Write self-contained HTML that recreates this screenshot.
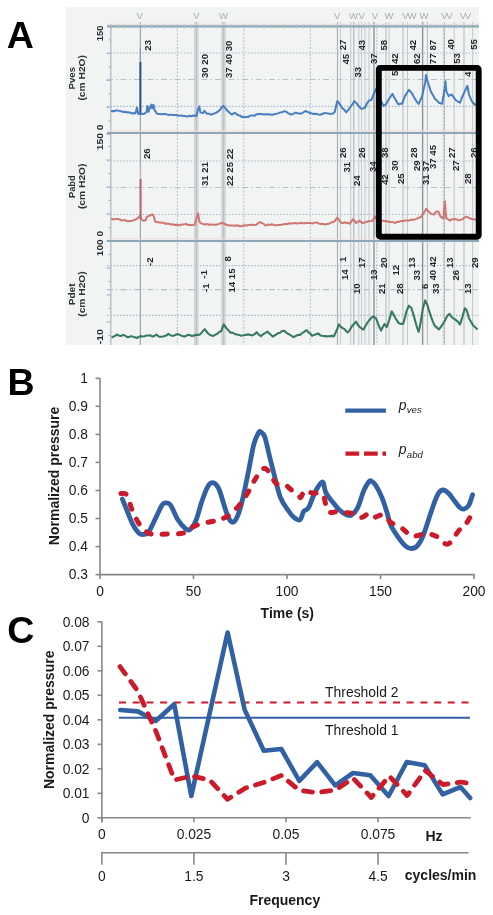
<!DOCTYPE html>
<html><head><meta charset="utf-8"><title>Figure</title>
<style>
html,body{margin:0;padding:0;background:#fff;width:493px;height:915px;overflow:hidden;}
body{position:relative;font-family:"Liberation Sans", sans-serif;}
svg text{font-family:"Liberation Sans", sans-serif;}
svg{will-change:transform;}
</style></head><body>
<svg width="493" height="915" viewBox="0 0 493 915" style="position:absolute;left:0;top:0">
<text x="6.8" y="47.7" font-family="Liberation Sans" font-weight="bold" font-size="37.5" fill="#000">A</text>
<text x="7.5" y="395.4" font-family="Liberation Sans" font-weight="bold" font-size="37.5" fill="#000">B</text>
<text x="7.3" y="643.0" font-family="Liberation Sans" font-weight="bold" font-size="37.5" fill="#000">C</text>
<defs><filter id="soft" x="0" y="0" width="1" height="1"><feGaussianBlur stdDeviation="0.35"/></filter></defs>
<g id="panelA">
<rect x="66" y="7.5" width="413" height="337.5" fill="#eef0f1"/>
<rect x="66" y="7.5" width="413" height="337.5" fill="#f2f4f4"/>
<g filter="url(#soft)">
<line x1="107.0" y1="53.0" x2="479.0" y2="53.0" stroke="#a9bccb" stroke-width="1.20" stroke-dasharray="1.6 1.6"/>
<line x1="107.0" y1="106.3" x2="479.0" y2="106.3" stroke="#a9bccb" stroke-width="1.20" stroke-dasharray="1.6 1.6"/>
<line x1="107.0" y1="161.0" x2="479.0" y2="161.0" stroke="#a9bccb" stroke-width="1.20" stroke-dasharray="1.6 1.6"/>
<line x1="107.0" y1="214.5" x2="479.0" y2="214.5" stroke="#a9bccb" stroke-width="1.20" stroke-dasharray="1.6 1.6"/>
<line x1="107.0" y1="265.6" x2="479.0" y2="265.6" stroke="#a9bccb" stroke-width="1.20" stroke-dasharray="1.6 1.6"/>
<line x1="107.0" y1="315.3" x2="479.0" y2="315.3" stroke="#a9bccb" stroke-width="1.20" stroke-dasharray="1.6 1.6"/>
<line x1="107.0" y1="79.5" x2="479.0" y2="79.5" stroke="#b9c0c8" stroke-width="1.20" stroke-dasharray="6 3 1.5 3"/>
<line x1="107.0" y1="187.5" x2="479.0" y2="187.5" stroke="#b9c0c8" stroke-width="1.20" stroke-dasharray="6 3 1.5 3"/>
<line x1="107.0" y1="289.7" x2="479.0" y2="289.7" stroke="#b9c0c8" stroke-width="1.20" stroke-dasharray="6 3 1.5 3"/>
<line x1="177.3" y1="26.0" x2="177.3" y2="345.0" stroke="#b4bcc6" stroke-width="1.00" stroke-dasharray="2 1.5"/>
<line x1="243.8" y1="26.0" x2="243.8" y2="345.0" stroke="#b4bcc6" stroke-width="1.00" stroke-dasharray="2 1.5"/>
<line x1="310.3" y1="26.0" x2="310.3" y2="345.0" stroke="#b4bcc6" stroke-width="1.00" stroke-dasharray="2 1.5"/>
<line x1="376.8" y1="26.0" x2="376.8" y2="345.0" stroke="#b4bcc6" stroke-width="1.00" stroke-dasharray="2 1.5"/>
<line x1="443.3" y1="26.0" x2="443.3" y2="345.0" stroke="#b4bcc6" stroke-width="1.00" stroke-dasharray="2 1.5"/>
<line x1="196.3" y1="22.0" x2="196.3" y2="345.0" stroke="#d2d5d8" stroke-width="4.60" />
<line x1="196.3" y1="22.0" x2="196.3" y2="345.0" stroke="#b8bcc2" stroke-width="0.90" />
<line x1="223.5" y1="22.0" x2="223.5" y2="345.0" stroke="#d2d5d8" stroke-width="4.60" />
<line x1="223.5" y1="22.0" x2="223.5" y2="345.0" stroke="#b8bcc2" stroke-width="0.90" />
<line x1="337.5" y1="22.0" x2="337.5" y2="345.0" stroke="#a8b0b8" stroke-width="1.20" />
<line x1="340.6" y1="22.0" x2="340.6" y2="345.0" stroke="#c0c6cc" stroke-width="1.00" />
<line x1="350.7" y1="22.0" x2="350.7" y2="345.0" stroke="#c0c6cc" stroke-width="1.00" />
<line x1="353.8" y1="22.0" x2="353.8" y2="345.0" stroke="#b0b8c0" stroke-width="1.20" />
<line x1="358.8" y1="22.0" x2="358.8" y2="345.0" stroke="#c4c9ce" stroke-width="1.00" />
<line x1="361.5" y1="22.0" x2="361.5" y2="345.0" stroke="#c4c9ce" stroke-width="1.00" />
<line x1="365.0" y1="22.0" x2="365.0" y2="345.0" stroke="#c0c6cc" stroke-width="1.00" />
<line x1="369.0" y1="22.0" x2="369.0" y2="345.0" stroke="#c0c6cc" stroke-width="1.00" />
<line x1="374.0" y1="22.0" x2="374.0" y2="345.0" stroke="#8c949c" stroke-width="1.40" />
<line x1="386.0" y1="22.0" x2="386.0" y2="345.0" stroke="#b8bec4" stroke-width="1.10" />
<line x1="389.0" y1="22.0" x2="389.0" y2="345.0" stroke="#c4c9ce" stroke-width="1.00" />
<line x1="403.0" y1="22.0" x2="403.0" y2="345.0" stroke="#b8bec4" stroke-width="1.10" />
<line x1="407.5" y1="22.0" x2="407.5" y2="345.0" stroke="#c4c9ce" stroke-width="1.00" />
<line x1="422.6" y1="22.0" x2="422.6" y2="345.0" stroke="#8c949c" stroke-width="1.40" />
<line x1="427.4" y1="22.0" x2="427.4" y2="345.0" stroke="#b8bec4" stroke-width="1.10" />
<line x1="444.5" y1="22.0" x2="444.5" y2="345.0" stroke="#b8bec4" stroke-width="1.10" />
<line x1="454.2" y1="22.0" x2="454.2" y2="345.0" stroke="#c0c6cc" stroke-width="1.00" />
<line x1="464.0" y1="22.0" x2="464.0" y2="345.0" stroke="#b8bec4" stroke-width="1.10" />
<line x1="472.7" y1="22.0" x2="472.7" y2="345.0" stroke="#c0c6cc" stroke-width="1.00" />
<line x1="140.3" y1="22.0" x2="140.3" y2="345.0" stroke="#8a949e" stroke-width="1.00" />
<line x1="110.8" y1="25.0" x2="110.8" y2="345.0" stroke="#b4c0ca" stroke-width="1.40" />
<line x1="108.5" y1="39.9" x2="110.8" y2="39.9" stroke="#a0b0bc" stroke-width="1.00" />
<line x1="106.5" y1="53.4" x2="110.8" y2="53.4" stroke="#a0b0bc" stroke-width="1.00" />
<line x1="108.5" y1="66.9" x2="110.8" y2="66.9" stroke="#a0b0bc" stroke-width="1.00" />
<line x1="106.5" y1="80.4" x2="110.8" y2="80.4" stroke="#a0b0bc" stroke-width="1.00" />
<line x1="108.5" y1="93.9" x2="110.8" y2="93.9" stroke="#a0b0bc" stroke-width="1.00" />
<line x1="106.5" y1="107.4" x2="110.8" y2="107.4" stroke="#a0b0bc" stroke-width="1.00" />
<line x1="108.5" y1="120.9" x2="110.8" y2="120.9" stroke="#a0b0bc" stroke-width="1.00" />
<line x1="106.5" y1="134.4" x2="110.8" y2="134.4" stroke="#a0b0bc" stroke-width="1.00" />
<line x1="108.5" y1="146.5" x2="110.8" y2="146.5" stroke="#a0b0bc" stroke-width="1.00" />
<line x1="106.5" y1="160.0" x2="110.8" y2="160.0" stroke="#a0b0bc" stroke-width="1.00" />
<line x1="108.5" y1="173.5" x2="110.8" y2="173.5" stroke="#a0b0bc" stroke-width="1.00" />
<line x1="106.5" y1="187.0" x2="110.8" y2="187.0" stroke="#a0b0bc" stroke-width="1.00" />
<line x1="108.5" y1="200.5" x2="110.8" y2="200.5" stroke="#a0b0bc" stroke-width="1.00" />
<line x1="106.5" y1="214.0" x2="110.8" y2="214.0" stroke="#a0b0bc" stroke-width="1.00" />
<line x1="108.5" y1="227.5" x2="110.8" y2="227.5" stroke="#a0b0bc" stroke-width="1.00" />
<line x1="106.5" y1="241.0" x2="110.8" y2="241.0" stroke="#a0b0bc" stroke-width="1.00" />
<line x1="108.5" y1="254.5" x2="110.8" y2="254.5" stroke="#a0b0bc" stroke-width="1.00" />
<line x1="106.5" y1="268.0" x2="110.8" y2="268.0" stroke="#a0b0bc" stroke-width="1.00" />
<line x1="108.5" y1="281.5" x2="110.8" y2="281.5" stroke="#a0b0bc" stroke-width="1.00" />
<line x1="106.5" y1="295.0" x2="110.8" y2="295.0" stroke="#a0b0bc" stroke-width="1.00" />
<line x1="108.5" y1="308.5" x2="110.8" y2="308.5" stroke="#a0b0bc" stroke-width="1.00" />
<line x1="106.5" y1="322.0" x2="110.8" y2="322.0" stroke="#a0b0bc" stroke-width="1.00" />
<line x1="108.5" y1="335.5" x2="110.8" y2="335.5" stroke="#a0b0bc" stroke-width="1.00" />
<line x1="107.0" y1="24.2" x2="479.0" y2="24.2" stroke="#eedadd" stroke-width="1.00" />
<line x1="107.0" y1="26.4" x2="479.0" y2="26.4" stroke="#8ea7b6" stroke-width="2.20" />
<line x1="107.0" y1="130.8" x2="479.0" y2="130.8" stroke="#eedadd" stroke-width="1.00" />
<line x1="107.0" y1="133.0" x2="479.0" y2="133.0" stroke="#8ea7b6" stroke-width="2.20" />
<line x1="107.0" y1="238.8" x2="479.0" y2="238.8" stroke="#eedadd" stroke-width="1.00" />
<line x1="107.0" y1="241.0" x2="479.0" y2="241.0" stroke="#8ea7b6" stroke-width="2.20" />
<line x1="111.0" y1="24.2" x2="111.0" y2="28.8" stroke="#b4c0c8" stroke-width="0.80" />
<line x1="117.7" y1="24.2" x2="117.7" y2="28.8" stroke="#b4c0c8" stroke-width="0.80" />
<line x1="124.3" y1="24.2" x2="124.3" y2="28.8" stroke="#b4c0c8" stroke-width="0.80" />
<line x1="131.0" y1="24.2" x2="131.0" y2="28.8" stroke="#b4c0c8" stroke-width="0.80" />
<line x1="137.6" y1="24.2" x2="137.6" y2="28.8" stroke="#b4c0c8" stroke-width="0.80" />
<line x1="144.3" y1="24.2" x2="144.3" y2="28.8" stroke="#b4c0c8" stroke-width="0.80" />
<line x1="150.9" y1="24.2" x2="150.9" y2="28.8" stroke="#b4c0c8" stroke-width="0.80" />
<line x1="157.6" y1="24.2" x2="157.6" y2="28.8" stroke="#b4c0c8" stroke-width="0.80" />
<line x1="164.2" y1="24.2" x2="164.2" y2="28.8" stroke="#b4c0c8" stroke-width="0.80" />
<line x1="170.9" y1="24.2" x2="170.9" y2="28.8" stroke="#b4c0c8" stroke-width="0.80" />
<line x1="177.5" y1="24.2" x2="177.5" y2="28.8" stroke="#b4c0c8" stroke-width="0.80" />
<line x1="184.2" y1="24.2" x2="184.2" y2="28.8" stroke="#b4c0c8" stroke-width="0.80" />
<line x1="190.8" y1="24.2" x2="190.8" y2="28.8" stroke="#b4c0c8" stroke-width="0.80" />
<line x1="197.5" y1="24.2" x2="197.5" y2="28.8" stroke="#b4c0c8" stroke-width="0.80" />
<line x1="204.1" y1="24.2" x2="204.1" y2="28.8" stroke="#b4c0c8" stroke-width="0.80" />
<line x1="210.8" y1="24.2" x2="210.8" y2="28.8" stroke="#b4c0c8" stroke-width="0.80" />
<line x1="217.4" y1="24.2" x2="217.4" y2="28.8" stroke="#b4c0c8" stroke-width="0.80" />
<line x1="224.1" y1="24.2" x2="224.1" y2="28.8" stroke="#b4c0c8" stroke-width="0.80" />
<line x1="230.7" y1="24.2" x2="230.7" y2="28.8" stroke="#b4c0c8" stroke-width="0.80" />
<line x1="237.4" y1="24.2" x2="237.4" y2="28.8" stroke="#b4c0c8" stroke-width="0.80" />
<line x1="244.0" y1="24.2" x2="244.0" y2="28.8" stroke="#b4c0c8" stroke-width="0.80" />
<line x1="250.7" y1="24.2" x2="250.7" y2="28.8" stroke="#b4c0c8" stroke-width="0.80" />
<line x1="257.3" y1="24.2" x2="257.3" y2="28.8" stroke="#b4c0c8" stroke-width="0.80" />
<line x1="264.0" y1="24.2" x2="264.0" y2="28.8" stroke="#b4c0c8" stroke-width="0.80" />
<line x1="270.6" y1="24.2" x2="270.6" y2="28.8" stroke="#b4c0c8" stroke-width="0.80" />
<line x1="277.3" y1="24.2" x2="277.3" y2="28.8" stroke="#b4c0c8" stroke-width="0.80" />
<line x1="283.9" y1="24.2" x2="283.9" y2="28.8" stroke="#b4c0c8" stroke-width="0.80" />
<line x1="290.6" y1="24.2" x2="290.6" y2="28.8" stroke="#b4c0c8" stroke-width="0.80" />
<line x1="297.2" y1="24.2" x2="297.2" y2="28.8" stroke="#b4c0c8" stroke-width="0.80" />
<line x1="303.8" y1="24.2" x2="303.8" y2="28.8" stroke="#b4c0c8" stroke-width="0.80" />
<line x1="310.5" y1="24.2" x2="310.5" y2="28.8" stroke="#b4c0c8" stroke-width="0.80" />
<line x1="317.1" y1="24.2" x2="317.1" y2="28.8" stroke="#b4c0c8" stroke-width="0.80" />
<line x1="323.8" y1="24.2" x2="323.8" y2="28.8" stroke="#b4c0c8" stroke-width="0.80" />
<line x1="330.4" y1="24.2" x2="330.4" y2="28.8" stroke="#b4c0c8" stroke-width="0.80" />
<line x1="337.1" y1="24.2" x2="337.1" y2="28.8" stroke="#b4c0c8" stroke-width="0.80" />
<line x1="343.7" y1="24.2" x2="343.7" y2="28.8" stroke="#b4c0c8" stroke-width="0.80" />
<line x1="350.4" y1="24.2" x2="350.4" y2="28.8" stroke="#b4c0c8" stroke-width="0.80" />
<line x1="357.0" y1="24.2" x2="357.0" y2="28.8" stroke="#b4c0c8" stroke-width="0.80" />
<line x1="363.7" y1="24.2" x2="363.7" y2="28.8" stroke="#b4c0c8" stroke-width="0.80" />
<line x1="370.3" y1="24.2" x2="370.3" y2="28.8" stroke="#b4c0c8" stroke-width="0.80" />
<line x1="377.0" y1="24.2" x2="377.0" y2="28.8" stroke="#b4c0c8" stroke-width="0.80" />
<line x1="383.6" y1="24.2" x2="383.6" y2="28.8" stroke="#b4c0c8" stroke-width="0.80" />
<line x1="390.3" y1="24.2" x2="390.3" y2="28.8" stroke="#b4c0c8" stroke-width="0.80" />
<line x1="396.9" y1="24.2" x2="396.9" y2="28.8" stroke="#b4c0c8" stroke-width="0.80" />
<line x1="403.6" y1="24.2" x2="403.6" y2="28.8" stroke="#b4c0c8" stroke-width="0.80" />
<line x1="410.2" y1="24.2" x2="410.2" y2="28.8" stroke="#b4c0c8" stroke-width="0.80" />
<line x1="416.9" y1="24.2" x2="416.9" y2="28.8" stroke="#b4c0c8" stroke-width="0.80" />
<line x1="423.5" y1="24.2" x2="423.5" y2="28.8" stroke="#b4c0c8" stroke-width="0.80" />
<line x1="430.2" y1="24.2" x2="430.2" y2="28.8" stroke="#b4c0c8" stroke-width="0.80" />
<line x1="436.8" y1="24.2" x2="436.8" y2="28.8" stroke="#b4c0c8" stroke-width="0.80" />
<line x1="443.5" y1="24.2" x2="443.5" y2="28.8" stroke="#b4c0c8" stroke-width="0.80" />
<line x1="450.1" y1="24.2" x2="450.1" y2="28.8" stroke="#b4c0c8" stroke-width="0.80" />
<line x1="456.8" y1="24.2" x2="456.8" y2="28.8" stroke="#b4c0c8" stroke-width="0.80" />
<line x1="463.4" y1="24.2" x2="463.4" y2="28.8" stroke="#b4c0c8" stroke-width="0.80" />
<line x1="470.1" y1="24.2" x2="470.1" y2="28.8" stroke="#b4c0c8" stroke-width="0.80" />
<line x1="476.7" y1="24.2" x2="476.7" y2="28.8" stroke="#b4c0c8" stroke-width="0.80" />
<text x="139.6" y="19" text-anchor="middle" font-size="9.5" fill="#a6acb3">V</text>
<text x="196.3" y="19" text-anchor="middle" font-size="9.5" fill="#a6acb3">V</text>
<text x="223.5" y="19" text-anchor="middle" font-size="9.5" fill="#a6acb3">W</text>
<text x="337.2" y="19" text-anchor="middle" font-size="9.5" fill="#a6acb3">V</text>
<text x="353.5" y="19" text-anchor="middle" font-size="9.5" fill="#a6acb3">W</text>
<text x="361.6" y="19" text-anchor="middle" font-size="9.5" fill="#a6acb3">V</text>
<text x="374.8" y="19" text-anchor="middle" font-size="9.5" fill="#a6acb3">V</text>
<text x="389.0" y="19" text-anchor="middle" font-size="9.5" fill="#a6acb3">W</text>
<text x="405.5" y="19" text-anchor="middle" font-size="9.5" fill="#a6acb3">V</text>
<text x="412.0" y="19" text-anchor="middle" font-size="9.5" fill="#a6acb3">W</text>
<text x="424.0" y="19" text-anchor="middle" font-size="9.5" fill="#a6acb3">W</text>
<text x="444.5" y="19" text-anchor="middle" font-size="9.5" fill="#a6acb3">V</text>
<text x="449.5" y="19" text-anchor="middle" font-size="9.5" fill="#a6acb3">V</text>
<text x="463.0" y="19" text-anchor="middle" font-size="9.5" fill="#a6acb3">V</text>
<text x="468.0" y="19" text-anchor="middle" font-size="9.5" fill="#a6acb3">V</text>
<path d="M111.0 111.3 L112.5 111.0 L114.0 111.4 L115.6 110.4 L117.2 110.4 L119.2 110.9 L121.2 111.2 L122.8 111.9 L124.5 111.7 L126.1 112.3 L127.8 112.2 L129.4 112.5 L130.9 113.0 L132.4 113.5 L134.0 113.0 L135.5 113.2 L137.0 107.6 L138.2 113.9 L140.0 113.9 L141.2 113.7 L144.0 114.0 L146.5 112.0 L147.5 105.9 L148.5 111.8 L150.0 107.6 L151.3 104.6 L152.1 108.3 L153.4 104.8 L154.5 109.7 L157.0 113.8 L158.6 114.0 L160.2 114.0 L161.9 114.3 L163.5 114.1 L165.1 114.1 L166.8 114.4 L168.4 114.9 L170.0 114.7 L171.6 114.7 L173.2 115.1 L174.8 115.1 L176.4 115.0 L178.0 115.6 L179.8 115.7 L181.5 115.4 L183.2 116.0 L185.0 116.1 L186.6 116.4 L188.2 116.2 L189.9 115.7 L191.5 116.3 L193.1 115.4 L194.8 115.7 L196.4 116.1 L198.0 109.3 L199.3 106.4 L200.4 112.4 L202.9 113.1 L204.5 110.7 L206.1 113.0 L207.7 113.8 L209.4 113.8 L211.0 114.7 L212.6 114.1 L214.2 113.5 L215.8 112.9 L217.9 111.6 L219.9 110.0 L221.5 107.6 L223.1 105.8 L225.6 108.4 L227.2 110.6 L228.8 112.1 L230.4 113.6 L232.1 114.5 L234.5 112.7 L237.0 114.4 L238.6 115.5 L240.2 115.6 L241.8 116.9 L243.4 117.0 L245.0 117.3 L246.6 116.7 L248.3 116.9 L249.9 115.7 L251.5 115.6 L253.2 115.5 L254.8 115.7 L256.4 114.3 L258.1 114.2 L259.7 113.7 L261.4 114.2 L263.1 114.3 L264.7 114.5 L266.4 114.1 L268.1 114.4 L269.7 114.3 L271.3 114.8 L273.0 114.8 L274.6 113.9 L276.2 113.9 L277.8 113.4 L279.5 112.8 L281.1 112.4 L282.8 112.0 L284.4 111.1 L286.0 111.6 L287.6 112.8 L289.2 113.6 L290.8 114.6 L292.4 114.3 L294.1 113.4 L295.7 112.6 L297.3 113.2 L299.0 113.6 L300.6 113.5 L302.2 113.2 L303.9 112.0 L305.5 111.0 L307.1 111.8 L308.7 112.4 L310.3 113.3 L311.9 113.3 L313.6 114.1 L315.2 113.8 L316.8 114.0 L318.4 114.4 L320.0 114.7 L321.7 114.3 L323.3 113.5 L325.0 112.9 L326.6 113.3 L328.2 113.4 L329.8 113.9 L331.4 113.7 L333.0 113.4 L334.7 111.9 L337.3 101.1 L338.9 102.9 L340.5 105.4 L342.2 107.9 L344.2 109.7 L346.2 112.4 L348.2 110.1 L350.3 107.2 L352.4 104.3 L354.4 101.1 L356.8 103.6 L358.8 106.2 L360.8 108.6 L362.9 108.7 L364.9 107.7 L366.9 103.5 L369.0 100.4 L371.4 99.9 L373.8 93.8 L376.3 88.5 L378.0 92.5 L380.5 100.0 L382.1 103.3 L383.6 106.0 L386.0 104.2 L388.0 100.5 L390.0 97.4 L392.5 93.9 L394.1 97.3 L395.7 99.9 L398.2 104.3 L400.2 103.8 L402.2 103.7 L404.9 96.1 L406.9 93.1 L408.9 89.8 L410.5 91.7 L412.2 93.7 L413.8 96.9 L415.4 99.6 L417.0 102.0 L418.7 103.9 L420.3 100.3 L421.9 97.0 L423.5 90.0 L425.2 82.7 L426.0 74.9 L427.6 81.7 L429.2 86.0 L430.8 91.4 L432.9 95.1 L434.9 98.8 L436.9 100.6 L439.0 102.8 L440.6 103.3 L442.2 103.7 L444.6 89.1 L445.5 81.3 L446.3 91.4 L448.7 96.1 L450.3 95.0 L451.9 94.4 L453.9 97.7 L456.0 100.3 L458.0 101.7 L460.0 102.7 L461.6 98.5 L463.3 94.5 L465.7 89.4 L467.4 85.8 L469.0 94.5 L471.4 100.5 L473.0 102.7 L474.7 104.5 L477.5 104.9" fill="none" stroke="#3f78c0" stroke-width="2.00" stroke-linejoin="round" opacity="0.95"/>
<path d="M111.0 218.6 L112.8 219.3 L114.5 219.3 L116.2 219.0 L118.0 219.1 L119.6 219.4 L121.2 220.3 L122.9 220.4 L124.5 219.9 L126.1 220.8 L127.8 221.2 L129.4 221.1 L131.0 221.0 L132.9 220.6 L134.8 219.7 L136.7 219.0 L138.3 217.5 L139.9 215.5 L141.5 219.5 L143.1 220.7 L145.6 220.2 L147.2 216.6 L149.6 215.7 L152.1 214.3 L153.7 216.0 L155.3 221.7 L156.9 221.9 L158.6 222.5 L160.2 222.5 L161.8 222.8 L163.4 222.7 L165.1 223.7 L166.7 223.4 L168.3 223.7 L169.9 224.0 L171.6 224.6 L173.2 224.3 L174.8 225.0 L176.4 224.8 L178.1 225.0 L179.7 225.2 L181.5 224.5 L183.2 224.6 L185.0 224.1 L186.6 224.1 L188.2 225.1 L189.9 224.7 L191.5 225.2 L193.1 225.0 L194.7 224.5 L197.2 216.0 L198.0 213.4 L199.6 222.0 L201.2 223.4 L202.9 224.0 L204.5 224.5 L206.2 224.1 L207.8 224.2 L209.4 224.7 L211.0 224.4 L212.6 224.5 L214.3 224.7 L215.9 224.8 L217.5 224.3 L219.1 223.9 L220.7 223.3 L222.3 222.7 L223.9 223.7 L225.6 224.3 L227.2 225.2 L228.8 225.2 L230.4 225.6 L232.1 225.4 L233.7 225.6 L235.3 225.8 L236.9 225.3 L238.6 225.7 L240.2 226.3 L241.8 226.3 L243.4 225.5 L245.0 225.3 L246.7 225.5 L248.3 224.9 L249.9 224.9 L251.5 224.6 L253.1 225.0 L254.8 224.9 L256.4 224.8 L258.4 222.8 L260.5 222.1 L262.0 223.1 L263.5 223.6 L265.0 225.4 L266.6 225.3 L268.2 224.4 L269.9 225.0 L271.5 224.3 L273.1 224.6 L274.8 225.3 L276.4 225.3 L278.0 224.9 L279.6 224.9 L281.2 224.8 L282.9 224.4 L284.5 224.1 L286.1 224.0 L287.8 224.2 L289.4 223.2 L291.0 223.6 L292.6 223.4 L294.2 223.0 L295.9 223.3 L297.5 223.6 L299.1 223.3 L300.8 222.7 L302.4 223.4 L304.0 223.0 L305.6 223.4 L307.2 222.7 L308.9 223.1 L310.5 223.0 L312.1 223.6 L313.8 222.9 L315.4 222.5 L317.0 222.6 L318.6 223.5 L320.2 223.9 L321.8 223.7 L323.4 224.0 L325.0 224.6 L326.7 224.0 L328.4 223.9 L330.0 223.1 L331.6 222.3 L333.2 222.1 L334.8 221.0 L337.2 217.5 L338.9 219.9 L341.3 222.8 L343.1 223.0 L344.9 222.2 L346.5 223.2 L348.1 222.7 L349.7 223.8 L351.4 221.4 L353.0 219.2 L354.6 221.1 L356.2 223.0 L357.9 221.6 L359.5 220.6 L361.1 222.2 L362.7 223.1 L364.3 222.5 L366.0 222.0 L367.6 221.4 L369.2 221.2 L370.9 221.1 L372.5 220.8 L374.9 216.4 L376.5 219.2 L378.4 219.9 L380.3 220.1 L382.2 220.8 L383.8 220.7 L385.4 221.2 L387.1 221.1 L388.7 222.0 L390.3 222.1 L391.9 221.9 L393.6 222.4 L395.2 223.0 L396.8 221.8 L398.4 222.1 L400.1 221.3 L401.7 221.0 L403.3 221.1 L404.9 220.5 L406.6 220.4 L408.2 220.4 L409.7 220.5 L411.2 219.6 L412.7 219.9 L414.2 219.5 L415.7 219.2 L417.6 218.3 L419.5 217.5 L421.4 216.6 L424.2 212.3 L426.3 208.8 L428.5 211.5 L431.3 213.9 L434.1 214.6 L436.3 211.6 L438.4 211.6 L440.5 216.7 L443.4 218.6 L444.8 201.2 L446.2 218.1 L448.0 219.2 L449.8 220.5 L451.9 219.5 L454.0 219.0 L456.1 219.2 L458.3 220.3 L460.5 219.9 L462.6 219.1 L464.7 217.4 L466.8 216.8 L469.7 218.2 L471.8 219.0 L473.9 219.3 L475.7 219.8 L477.5 220.0" fill="none" stroke="#cf7068" stroke-width="2.00" stroke-linejoin="round" opacity="0.95"/>
<path d="M111.6 337.7 L113.4 336.5 L115.1 335.9 L116.9 334.5 L118.8 335.5 L120.8 336.0 L123.5 334.9 L125.5 335.9 L127.4 337.2 L129.4 336.9 L131.4 336.1 L133.2 336.9 L134.9 337.3 L136.7 338.0 L138.6 337.0 L140.6 336.1 L142.6 336.5 L144.6 336.3 L146.6 335.5 L148.5 335.5 L150.5 335.3 L152.5 336.6 L154.5 335.8 L156.5 334.5 L159.0 336.7 L161.0 336.8 L163.0 336.5 L164.8 335.9 L166.5 335.3 L168.3 333.9 L170.3 335.1 L172.3 335.9 L174.1 335.5 L175.8 334.7 L177.6 334.0 L180.2 335.1 L182.2 336.1 L184.2 336.6 L186.1 335.9 L188.1 334.7 L190.1 335.2 L192.0 336.0 L194.0 335.6 L196.0 334.6 L198.0 335.0 L200.0 334.4 L201.6 332.7 L203.1 330.9 L204.7 329.2 L206.3 331.3 L207.9 333.2 L209.7 334.7 L211.4 335.4 L213.2 335.9 L215.1 334.8 L217.1 333.9 L219.1 332.0 L221.1 331.3 L223.7 324.3 L226.4 328.1 L228.4 330.2 L230.3 332.6 L232.3 332.6 L234.3 333.6 L235.9 334.4 L237.4 334.5 L239.0 334.9 L240.6 335.6 L242.2 335.5 L243.8 335.3 L245.4 334.9 L247.0 334.6 L248.8 334.4 L250.6 334.9 L252.4 335.4 L254.5 334.2 L256.6 332.2 L258.8 334.6 L260.9 336.1 L262.5 334.8 L264.1 333.7 L265.7 332.8 L267.3 331.5 L269.1 333.2 L270.8 334.6 L272.6 336.6 L274.5 335.5 L276.3 334.5 L278.1 333.1 L280.0 332.8 L282.1 331.0 L284.3 330.7 L286.5 332.8 L288.6 334.0 L290.4 335.2 L292.1 336.2 L293.9 337.1 L295.5 336.0 L297.1 335.3 L298.7 334.7 L300.3 334.9 L301.9 333.1 L303.5 332.4 L305.1 330.9 L306.7 330.2 L308.5 332.5 L310.2 333.4 L312.0 335.9 L313.8 334.9 L315.5 334.5 L317.3 333.6 L318.9 333.9 L320.5 335.4 L322.1 335.8 L323.7 336.1 L325.3 336.0 L326.9 336.4 L328.4 336.3 L330.0 336.1 L332.1 335.9 L334.1 336.1 L335.7 332.3 L337.3 329.0 L338.9 324.4 L340.9 326.8 L343.0 328.4 L344.6 329.1 L346.3 331.3 L347.9 332.4 L349.9 329.8 L351.9 326.3 L353.9 324.0 L356.0 321.6 L358.0 325.0 L360.0 327.4 L361.6 328.4 L363.3 329.7 L365.3 326.3 L367.3 322.8 L369.0 320.5 L370.6 318.7 L372.2 317.0 L373.8 316.4 L376.3 318.9 L378.7 325.5 L381.1 330.6 L382.8 327.0 L384.4 324.0 L386.8 327.0 L389.3 319.6 L391.7 311.4 L393.3 314.1 L394.9 317.2 L396.9 320.5 L399.0 323.3 L401.1 323.9 L403.2 323.6 L404.9 317.8 L406.5 311.1 L408.9 305.7 L411.4 308.0 L413.0 313.3 L414.6 318.7 L416.6 326.1 L418.7 331.8 L420.3 324.1 L422.7 309.3 L425.2 300.4 L427.6 305.6 L429.2 311.2 L430.8 315.8 L432.5 320.6 L434.1 324.7 L435.7 326.6 L437.4 328.1 L439.0 329.5 L441.0 326.6 L443.0 323.8 L444.6 321.3 L446.3 317.6 L447.9 315.3 L449.5 313.9 L451.9 317.3 L453.5 318.3 L455.2 319.6 L457.6 321.4 L460.0 324.5 L462.5 316.6 L464.9 308.3 L466.6 310.0 L469.0 318.2 L471.0 321.7 L473.0 325.3 L474.5 326.7 L476.0 327.9 L477.5 329.4" fill="none" stroke="#2d7458" stroke-width="2.10" stroke-linejoin="round" opacity="0.95"/>
<line x1="140.4" y1="113.0" x2="140.4" y2="62.0" stroke="#2a4f80" stroke-width="2.00" />
<line x1="140.4" y1="62.0" x2="140.4" y2="47.5" stroke="#7d97b5" stroke-width="1.20" />
<line x1="140.6" y1="219.0" x2="140.6" y2="179.0" stroke="#b8606e" stroke-width="2.00" />
<line x1="140.6" y1="179.0" x2="140.6" y2="167.5" stroke="#d8a8b0" stroke-width="1.20" />
<text transform="translate(150.8 50.7) rotate(-90)" font-size="9.6" font-weight="bold" fill="#25282c">23</text>
<text transform="translate(207.6 78.0) rotate(-90)" font-size="9.6" font-weight="bold" fill="#25282c">30 20</text>
<text transform="translate(232.2 78.0) rotate(-90)" font-size="9.6" font-weight="bold" fill="#25282c">37 40 30</text>
<text transform="translate(345.9 50.3) rotate(-90)" font-size="9.6" font-weight="bold" fill="#25282c">27</text>
<text transform="translate(349.0 64.6) rotate(-90)" font-size="9.6" font-weight="bold" fill="#25282c">45</text>
<text transform="translate(360.8 77.5) rotate(-90)" font-size="9.6" font-weight="bold" fill="#25282c">33</text>
<text transform="translate(365.4 50.5) rotate(-90)" font-size="9.6" font-weight="bold" fill="#25282c">43</text>
<text transform="translate(376.6 64.0) rotate(-90)" font-size="9.6" font-weight="bold" fill="#25282c">37</text>
<text transform="translate(386.6 50.5) rotate(-90)" font-size="9.6" font-weight="bold" fill="#25282c">58</text>
<text transform="translate(397.9 64.0) rotate(-90)" font-size="9.6" font-weight="bold" fill="#25282c">42</text>
<text transform="translate(397.9 76.0) rotate(-90)" font-size="9.6" font-weight="bold" fill="#25282c">5</text>
<text transform="translate(415.5 50.5) rotate(-90)" font-size="9.6" font-weight="bold" fill="#25282c">42</text>
<text transform="translate(420.1 64.0) rotate(-90)" font-size="9.6" font-weight="bold" fill="#25282c">62</text>
<text transform="translate(435.6 50.5) rotate(-90)" font-size="9.6" font-weight="bold" fill="#25282c">87</text>
<text transform="translate(435.8 64.2) rotate(-90)" font-size="9.6" font-weight="bold" fill="#25282c">77</text>
<text transform="translate(453.9 49.8) rotate(-90)" font-size="9.6" font-weight="bold" fill="#25282c">40</text>
<text transform="translate(459.8 63.8) rotate(-90)" font-size="9.6" font-weight="bold" fill="#25282c">53</text>
<text transform="translate(477.4 49.8) rotate(-90)" font-size="9.6" font-weight="bold" fill="#25282c">55</text>
<text transform="translate(470.8 77.0) rotate(-90)" font-size="9.6" font-weight="bold" fill="#25282c">4</text>
<text transform="translate(150.4 159.0) rotate(-90)" font-size="9.6" font-weight="bold" fill="#25282c">26</text>
<text transform="translate(208.4 186.0) rotate(-90)" font-size="9.6" font-weight="bold" fill="#25282c">31 21</text>
<text transform="translate(233.4 186.0) rotate(-90)" font-size="9.6" font-weight="bold" fill="#25282c">22 25 22</text>
<text transform="translate(345.9 158.0) rotate(-90)" font-size="9.6" font-weight="bold" fill="#25282c">26</text>
<text transform="translate(350.1 172.6) rotate(-90)" font-size="9.6" font-weight="bold" fill="#25282c">31</text>
<text transform="translate(360.1 186.0) rotate(-90)" font-size="9.6" font-weight="bold" fill="#25282c">24</text>
<text transform="translate(364.8 158.0) rotate(-90)" font-size="9.6" font-weight="bold" fill="#25282c">26</text>
<text transform="translate(375.7 172.0) rotate(-90)" font-size="9.6" font-weight="bold" fill="#25282c">34</text>
<text transform="translate(388.2 158.0) rotate(-90)" font-size="9.6" font-weight="bold" fill="#25282c">38</text>
<text transform="translate(387.7 185.0) rotate(-90)" font-size="9.6" font-weight="bold" fill="#25282c">42</text>
<text transform="translate(398.4 171.0) rotate(-90)" font-size="9.6" font-weight="bold" fill="#25282c">30</text>
<text transform="translate(403.9 184.0) rotate(-90)" font-size="9.6" font-weight="bold" fill="#25282c">25</text>
<text transform="translate(417.4 158.0) rotate(-90)" font-size="9.6" font-weight="bold" fill="#25282c">28</text>
<text transform="translate(420.0 171.0) rotate(-90)" font-size="9.6" font-weight="bold" fill="#25282c">29</text>
<text transform="translate(429.4 185.0) rotate(-90)" font-size="9.6" font-weight="bold" fill="#25282c">31 37</text>
<text transform="translate(436.2 169.0) rotate(-90)" font-size="9.6" font-weight="bold" fill="#25282c">37 45</text>
<text transform="translate(455.1 158.0) rotate(-90)" font-size="9.6" font-weight="bold" fill="#25282c">27</text>
<text transform="translate(459.2 171.0) rotate(-90)" font-size="9.6" font-weight="bold" fill="#25282c">27</text>
<text transform="translate(471.3 184.0) rotate(-90)" font-size="9.6" font-weight="bold" fill="#25282c">28</text>
<text transform="translate(476.7 158.0) rotate(-90)" font-size="9.6" font-weight="bold" fill="#25282c">26</text>
<text transform="translate(152.7 266.0) rotate(-90)" font-size="9.6" font-weight="bold" fill="#25282c">-2</text>
<text transform="translate(206.9 278.5) rotate(-90)" font-size="9.6" font-weight="bold" fill="#25282c">-1</text>
<text transform="translate(208.6 292.0) rotate(-90)" font-size="9.6" font-weight="bold" fill="#25282c">-1</text>
<text transform="translate(234.6 292.5) rotate(-90)" font-size="9.6" font-weight="bold" fill="#25282c">14 15</text>
<text transform="translate(230.9 261.5) rotate(-90)" font-size="9.6" font-weight="bold" fill="#25282c">8</text>
<text transform="translate(345.9 262.0) rotate(-90)" font-size="9.6" font-weight="bold" fill="#25282c">1</text>
<text transform="translate(348.4 280.0) rotate(-90)" font-size="9.6" font-weight="bold" fill="#25282c">14</text>
<text transform="translate(360.1 294.0) rotate(-90)" font-size="9.6" font-weight="bold" fill="#25282c">10</text>
<text transform="translate(364.8 268.0) rotate(-90)" font-size="9.6" font-weight="bold" fill="#25282c">17</text>
<text transform="translate(376.6 280.0) rotate(-90)" font-size="9.6" font-weight="bold" fill="#25282c">13</text>
<text transform="translate(387.0 268.0) rotate(-90)" font-size="9.6" font-weight="bold" fill="#25282c">20</text>
<text transform="translate(385.1 294.0) rotate(-90)" font-size="9.6" font-weight="bold" fill="#25282c">21</text>
<text transform="translate(399.2 275.5) rotate(-90)" font-size="9.6" font-weight="bold" fill="#25282c">12</text>
<text transform="translate(402.6 294.0) rotate(-90)" font-size="9.6" font-weight="bold" fill="#25282c">28</text>
<text transform="translate(415.3 268.0) rotate(-90)" font-size="9.6" font-weight="bold" fill="#25282c">13</text>
<text transform="translate(420.4 280.5) rotate(-90)" font-size="9.6" font-weight="bold" fill="#25282c">33</text>
<text transform="translate(428.4 289.0) rotate(-90)" font-size="9.6" font-weight="bold" fill="#25282c">6</text>
<text transform="translate(435.6 280.5) rotate(-90)" font-size="9.6" font-weight="bold" fill="#25282c">40 42</text>
<text transform="translate(438.9 294.0) rotate(-90)" font-size="9.6" font-weight="bold" fill="#25282c">33</text>
<text transform="translate(453.4 268.0) rotate(-90)" font-size="9.6" font-weight="bold" fill="#25282c">13</text>
<text transform="translate(459.2 280.5) rotate(-90)" font-size="9.6" font-weight="bold" fill="#25282c">26</text>
<text transform="translate(470.9 294.0) rotate(-90)" font-size="9.6" font-weight="bold" fill="#25282c">13</text>
<text transform="translate(478.0 268.0) rotate(-90)" font-size="9.6" font-weight="bold" fill="#25282c">29</text>
<text transform="translate(103.3 41.3) rotate(-90)" font-size="9.6" font-weight="bold" fill="#2a2d31" textLength="15.8" lengthAdjust="spacingAndGlyphs">150</text>
<text transform="translate(103.3 150.2) rotate(-90)" font-size="9.6" font-weight="bold" fill="#2a2d31" textLength="25.6" lengthAdjust="spacingAndGlyphs">150 0</text>
<text transform="translate(103.3 256.2) rotate(-90)" font-size="9.6" font-weight="bold" fill="#2a2d31" textLength="25.2" lengthAdjust="spacingAndGlyphs">100 0</text>
<text transform="translate(103.3 344.5) rotate(-90)" font-size="9.6" font-weight="bold" fill="#2a2d31" textLength="15.5" lengthAdjust="spacingAndGlyphs">-10</text>
<text transform="translate(75.2 78.2) rotate(-90)" text-anchor="middle" font-size="9.4" font-weight="bold" fill="#2e3238" textLength="22.4" lengthAdjust="spacingAndGlyphs">Pves</text>
<text transform="translate(84.6 77.8) rotate(-90)" text-anchor="middle" font-size="9.4" font-weight="bold" fill="#2e3238" textLength="45.5" lengthAdjust="spacingAndGlyphs">(cm H2O)</text>
<text transform="translate(75.2 186.7) rotate(-90)" text-anchor="middle" font-size="9.4" font-weight="bold" fill="#2e3238" textLength="22.7" lengthAdjust="spacingAndGlyphs">Pabd</text>
<text transform="translate(84.6 186.3) rotate(-90)" text-anchor="middle" font-size="9.4" font-weight="bold" fill="#2e3238" textLength="45.5" lengthAdjust="spacingAndGlyphs">(cm H2O)</text>
<text transform="translate(75.2 294.4) rotate(-90)" text-anchor="middle" font-size="9.4" font-weight="bold" fill="#2e3238" textLength="21.8" lengthAdjust="spacingAndGlyphs">Pdet</text>
<text transform="translate(84.6 294.0) rotate(-90)" text-anchor="middle" font-size="9.4" font-weight="bold" fill="#2e3238" textLength="45.5" lengthAdjust="spacingAndGlyphs">(cm H2O)</text>
</g>
<rect x="378.8" y="67.9" width="99.9" height="168.8" fill="none" stroke="#000" stroke-width="5.9" rx="1.5"/>
</g>
<g font-family="Liberation Sans"><line x1="100.0" y1="378.3" x2="100.0" y2="575.4" stroke="#888888" stroke-width="1.6"/><line x1="99.2" y1="574.6" x2="474.8" y2="574.6" stroke="#888888" stroke-width="1.6"/><line x1="95.5" y1="378.3" x2="100.0" y2="378.3" stroke="#888888" stroke-width="1.6"/><text x="88" y="383.1" text-anchor="end" font-size="13.8" fill="#1a1a1a">1</text><line x1="95.5" y1="406.3" x2="100.0" y2="406.3" stroke="#888888" stroke-width="1.6"/><text x="88" y="411.1" text-anchor="end" font-size="13.8" fill="#1a1a1a">0.9</text><line x1="95.5" y1="434.4" x2="100.0" y2="434.4" stroke="#888888" stroke-width="1.6"/><text x="88" y="439.2" text-anchor="end" font-size="13.8" fill="#1a1a1a">0.8</text><line x1="95.5" y1="462.4" x2="100.0" y2="462.4" stroke="#888888" stroke-width="1.6"/><text x="88" y="467.2" text-anchor="end" font-size="13.8" fill="#1a1a1a">0.7</text><line x1="95.5" y1="490.5" x2="100.0" y2="490.5" stroke="#888888" stroke-width="1.6"/><text x="88" y="495.3" text-anchor="end" font-size="13.8" fill="#1a1a1a">0.6</text><line x1="95.5" y1="518.5" x2="100.0" y2="518.5" stroke="#888888" stroke-width="1.6"/><text x="88" y="523.3" text-anchor="end" font-size="13.8" fill="#1a1a1a">0.5</text><line x1="95.5" y1="546.6" x2="100.0" y2="546.6" stroke="#888888" stroke-width="1.6"/><text x="88" y="551.4" text-anchor="end" font-size="13.8" fill="#1a1a1a">0.4</text><line x1="95.5" y1="574.6" x2="100.0" y2="574.6" stroke="#888888" stroke-width="1.6"/><text x="88" y="579.4" text-anchor="end" font-size="13.8" fill="#1a1a1a">0.3</text><line x1="100.0" y1="574.6" x2="100.0" y2="579.1" stroke="#888888" stroke-width="1.6"/><text x="100.0" y="596" text-anchor="middle" font-size="13.8" fill="#1a1a1a">0</text><line x1="193.5" y1="574.6" x2="193.5" y2="579.1" stroke="#888888" stroke-width="1.6"/><text x="193.5" y="596" text-anchor="middle" font-size="13.8" fill="#1a1a1a">50</text><line x1="287.0" y1="574.6" x2="287.0" y2="579.1" stroke="#888888" stroke-width="1.6"/><text x="287.0" y="596" text-anchor="middle" font-size="13.8" fill="#1a1a1a">100</text><line x1="380.5" y1="574.6" x2="380.5" y2="579.1" stroke="#888888" stroke-width="1.6"/><text x="380.5" y="596" text-anchor="middle" font-size="13.8" fill="#1a1a1a">150</text><line x1="474.0" y1="574.6" x2="474.0" y2="579.1" stroke="#888888" stroke-width="1.6"/><text x="474.0" y="596" text-anchor="middle" font-size="13.8" fill="#1a1a1a">200</text><text x="287.3" y="617.9" text-anchor="middle" font-size="14" font-weight="bold" fill="#1a1a1a">Time (s)</text><text transform="translate(59.3 475.9) rotate(-90)" text-anchor="middle" font-size="14" font-weight="bold" fill="#1a1a1a">Normalized pressure</text><path d="M122.4 499.1 C123.1 500.9 125.0 505.7 126.8 510.0 C128.6 514.3 130.9 520.8 132.9 524.7 C134.9 528.6 137.2 531.6 139.0 533.2 C140.8 534.8 142.2 534.6 143.8 534.4 C145.4 534.2 146.7 534.8 148.7 532.0 C150.7 529.2 153.8 521.9 156.0 517.4 C158.2 512.9 160.4 507.6 162.0 505.2 C163.6 502.8 164.3 502.8 165.7 502.8 C167.1 502.8 168.6 502.4 170.6 505.2 C172.6 508.0 175.5 515.9 177.9 519.8 C180.3 523.6 183.2 526.7 185.2 528.3 C187.2 529.9 188.2 530.9 190.0 529.5 C191.8 528.1 194.2 524.7 196.2 519.8 C198.2 514.9 200.2 506.0 202.2 500.3 C204.2 494.6 206.4 488.6 208.3 485.7 C210.2 482.8 211.8 482.4 213.5 482.8 C215.2 483.2 216.8 484.9 218.5 488.2 C220.2 491.5 221.8 497.9 223.4 502.8 C225.0 507.7 226.7 514.2 228.3 517.4 C229.9 520.6 231.5 522.6 233.1 522.2 C234.7 521.8 236.4 519.0 238.0 515.0 C239.6 510.9 241.1 505.6 242.9 497.9 C244.7 490.2 247.2 477.6 249.0 468.7 C250.8 459.8 252.2 450.3 253.8 444.3 C255.4 438.3 257.5 434.6 258.7 432.6 C259.9 430.6 260.1 431.5 261.1 432.2 C262.1 432.9 263.4 432.9 264.8 437.0 C266.2 441.1 268.0 450.0 269.6 456.5 C271.2 463.0 272.7 469.1 274.5 476.0 C276.3 482.9 278.4 492.2 280.6 497.9 C282.8 503.6 285.7 506.8 287.9 510.0 C290.1 513.2 292.0 515.8 294.0 517.4 C296.0 519.0 298.4 520.8 300.0 519.8 C301.6 518.8 302.3 513.3 303.7 511.3 C305.1 509.3 306.8 510.7 308.6 507.6 C310.4 504.6 312.4 497.3 314.7 493.0 C317.0 488.7 320.3 482.0 322.2 482.0 C324.1 482.0 324.3 489.8 326.0 493.0 C327.7 496.2 329.9 498.7 332.2 501.5 C334.4 504.3 337.1 507.8 339.5 510.0 C341.9 512.2 344.8 514.2 346.8 515.0 C348.8 515.8 349.8 516.2 351.6 515.0 C353.4 513.8 355.7 511.7 357.7 507.6 C359.7 503.5 362.0 494.9 363.8 490.6 C365.6 486.3 367.5 483.6 368.7 482.0 C369.9 480.4 369.9 480.3 371.1 480.9 C372.3 481.5 374.2 482.9 376.0 485.7 C377.8 488.5 380.3 493.4 382.1 497.9 C383.9 502.4 385.6 508.0 387.0 512.5 C388.4 517.0 388.8 520.7 390.6 524.7 C392.4 528.8 395.4 533.2 397.9 536.8 C400.4 540.3 403.3 544.0 405.5 546.0 C407.7 548.0 409.4 548.5 411.3 548.5 C413.2 548.5 415.4 547.8 417.2 546.0 C419.0 544.2 420.5 541.8 422.4 537.5 C424.2 533.2 426.4 526.2 428.3 520.5 C430.2 514.8 432.3 508.1 434.0 503.5 C435.7 498.9 437.1 495.1 438.7 492.8 C440.3 490.6 441.7 489.8 443.4 490.0 C445.1 490.2 447.1 491.9 449.0 493.8 C450.9 495.7 452.8 498.9 454.7 501.3 C456.6 503.7 458.8 506.7 460.4 508.0 C462.0 509.3 462.8 509.4 464.2 508.9 C465.6 508.4 467.5 507.5 468.9 505.1 C470.3 502.7 472.0 496.4 472.6 494.7" fill="none" stroke="#3261a3" stroke-width="4.8" stroke-linejoin="round" stroke-linecap="round"/><path d="M121.0 493.6 C121.8 493.6 124.4 492.9 125.6 493.8 C126.8 494.7 127.5 496.7 128.4 499.0 C129.3 501.3 130.1 504.6 131.2 507.5 C132.3 510.4 133.3 513.2 135.0 516.5 C136.7 519.8 139.1 524.3 141.4 527.1 C143.7 529.9 146.3 532.0 148.7 533.2 C151.1 534.4 152.8 534.3 156.0 534.4 C159.2 534.5 163.7 534.1 168.2 533.9 C172.7 533.7 178.8 534.3 182.8 533.2 C186.9 532.1 189.3 528.7 192.5 527.1 C195.7 525.5 198.5 524.5 202.2 523.5 C205.8 522.5 211.5 521.6 214.4 521.0 C217.3 520.4 217.2 520.8 219.7 519.8 C222.2 518.8 226.2 517.4 229.5 515.0 C232.8 512.6 236.2 508.9 239.2 505.2 C242.2 501.5 245.1 497.3 247.7 493.0 C250.3 488.7 252.3 483.7 255.0 479.6 C257.6 475.5 261.2 469.6 263.6 468.5 C266.0 467.4 267.7 470.5 269.6 472.8 C271.5 475.1 273.5 480.4 275.0 482.3 C276.5 484.2 276.7 483.7 278.5 484.2 C280.3 484.7 283.5 484.2 285.6 485.2 C287.7 486.1 289.2 488.3 291.3 489.9 C293.4 491.5 296.9 493.6 298.4 494.9 C299.9 496.2 299.8 497.9 300.5 497.8 C301.2 497.7 301.7 495.3 302.5 494.0 C303.3 492.7 304.1 490.4 305.5 490.2 C306.9 490.0 308.8 492.2 311.2 492.7 C313.6 493.2 317.7 492.9 319.7 493.4 C321.7 493.9 322.5 494.5 323.3 495.6 C324.1 496.7 324.2 498.0 324.7 499.8 C325.2 501.6 325.5 504.5 326.1 506.5 C326.7 508.5 327.4 510.8 328.5 511.8 C329.6 512.8 331.1 512.4 332.5 512.4 C333.9 512.4 334.6 511.6 336.6 511.6 C338.6 511.6 341.4 512.1 344.3 512.5 C347.2 512.9 351.2 512.9 354.1 513.7 C357.0 514.5 359.0 517.4 361.4 517.4 C363.8 517.4 366.7 513.7 368.7 513.7 C370.7 513.7 371.2 517.2 373.6 517.4 C376.0 517.6 380.5 514.1 383.3 514.9 C386.1 515.7 387.8 520.2 390.6 522.2 C393.4 524.2 397.8 525.6 400.3 527.1 C402.8 528.6 403.9 530.0 405.7 531.5 C407.5 533.0 409.1 535.6 411.3 536.2 C413.5 536.8 416.4 535.8 418.9 535.3 C421.4 534.8 423.9 533.4 426.4 533.4 C428.9 533.4 431.8 534.5 434.0 535.3 C436.2 536.1 437.7 536.7 439.6 538.1 C441.5 539.5 443.6 543.0 445.3 543.8 C447.0 544.6 448.4 544.1 450.0 542.8 C451.6 541.5 453.0 538.6 454.7 536.2 C456.4 533.9 458.7 530.6 460.4 528.7 C462.1 526.8 463.7 526.5 465.1 524.9 C466.5 523.3 467.6 521.4 468.9 519.2 C470.1 517.0 472.0 513.0 472.6 511.7" fill="none" stroke="#cb1b2b" stroke-width="5" stroke-linejoin="round" stroke-linecap="round" stroke-dasharray="5.2 11"/><line x1="345.3" y1="410.6" x2="385.9" y2="410.6" stroke="#3261a3" stroke-width="4.3"/><line x1="345.5" y1="453.7" x2="386" y2="453.7" stroke="#cb1b2b" stroke-width="4.3" stroke-dasharray="13.7 4.8"/><text x="398.7" y="409.6" font-size="14" font-style="italic" fill="#1a1a1a">p<tspan font-size="9.6" dy="3.7" dx="0.3">ves</tspan></text><text x="398.7" y="453.9" font-size="14" font-style="italic" fill="#1a1a1a">p<tspan font-size="9.6" dy="3.6" dx="0.3">abd</tspan></text></g>
<g font-family="Liberation Sans"><line x1="101.9" y1="621.8" x2="101.9" y2="822.3" stroke="#888888" stroke-width="1.6"/><line x1="101.1" y1="817.8" x2="470.8" y2="817.8" stroke="#888888" stroke-width="1.6"/><line x1="97.5" y1="621.8" x2="101.9" y2="621.8" stroke="#888888" stroke-width="1.6"/><text x="89.5" y="626.6" text-anchor="end" font-size="13.8" fill="#1a1a1a">0.08</text><line x1="97.5" y1="646.3" x2="101.9" y2="646.3" stroke="#888888" stroke-width="1.6"/><text x="89.5" y="651.1" text-anchor="end" font-size="13.8" fill="#1a1a1a">0.07</text><line x1="97.5" y1="670.8" x2="101.9" y2="670.8" stroke="#888888" stroke-width="1.6"/><text x="89.5" y="675.6" text-anchor="end" font-size="13.8" fill="#1a1a1a">0.06</text><line x1="97.5" y1="695.3" x2="101.9" y2="695.3" stroke="#888888" stroke-width="1.6"/><text x="89.5" y="700.1" text-anchor="end" font-size="13.8" fill="#1a1a1a">0.05</text><line x1="97.5" y1="719.8" x2="101.9" y2="719.8" stroke="#888888" stroke-width="1.6"/><text x="89.5" y="724.6" text-anchor="end" font-size="13.8" fill="#1a1a1a">0.04</text><line x1="97.5" y1="744.3" x2="101.9" y2="744.3" stroke="#888888" stroke-width="1.6"/><text x="89.5" y="749.1" text-anchor="end" font-size="13.8" fill="#1a1a1a">0.03</text><line x1="97.5" y1="768.8" x2="101.9" y2="768.8" stroke="#888888" stroke-width="1.6"/><text x="89.5" y="773.6" text-anchor="end" font-size="13.8" fill="#1a1a1a">0.02</text><line x1="97.5" y1="793.3" x2="101.9" y2="793.3" stroke="#888888" stroke-width="1.6"/><text x="89.5" y="798.1" text-anchor="end" font-size="13.8" fill="#1a1a1a">0.01</text><line x1="97.5" y1="817.8" x2="101.9" y2="817.8" stroke="#888888" stroke-width="1.6"/><text x="89.5" y="822.6" text-anchor="end" font-size="13.8" fill="#1a1a1a">0</text><line x1="101.9" y1="817.8" x2="101.9" y2="822.3" stroke="#888888" stroke-width="1.6"/><text x="101.9" y="839.3" text-anchor="middle" font-size="13.8" fill="#1a1a1a">0</text><line x1="193.9" y1="817.8" x2="193.9" y2="822.3" stroke="#888888" stroke-width="1.6"/><text x="193.9" y="839.3" text-anchor="middle" font-size="13.8" fill="#1a1a1a">0.025</text><line x1="286.0" y1="817.8" x2="286.0" y2="822.3" stroke="#888888" stroke-width="1.6"/><text x="286.0" y="839.3" text-anchor="middle" font-size="13.8" fill="#1a1a1a">0.05</text><line x1="378.0" y1="817.8" x2="378.0" y2="822.3" stroke="#888888" stroke-width="1.6"/><text x="378.0" y="839.3" text-anchor="middle" font-size="13.8" fill="#1a1a1a">0.075</text><text x="434" y="841" text-anchor="middle" font-size="14" font-weight="bold" fill="#1a1a1a">Hz</text><line x1="101.1" y1="852.7" x2="468.5" y2="852.7" stroke="#888888" stroke-width="1.6"/><line x1="101.9" y1="852.7" x2="101.9" y2="864.7" stroke="#888888" stroke-width="1.6"/><text x="101.9" y="881" text-anchor="middle" font-size="13.8" fill="#1a1a1a">0</text><line x1="193.9" y1="852.7" x2="193.9" y2="864.7" stroke="#888888" stroke-width="1.6"/><text x="193.9" y="881" text-anchor="middle" font-size="13.8" fill="#1a1a1a">1.5</text><line x1="286.0" y1="852.7" x2="286.0" y2="864.7" stroke="#888888" stroke-width="1.6"/><text x="286.0" y="881" text-anchor="middle" font-size="13.8" fill="#1a1a1a">3</text><line x1="378.0" y1="852.7" x2="378.0" y2="864.7" stroke="#888888" stroke-width="1.6"/><text x="378.0" y="881" text-anchor="middle" font-size="13.8" fill="#1a1a1a">4.5</text><text x="404.8" y="880.2" font-size="14" font-weight="bold" fill="#1a1a1a">cycles/min</text><text x="249.4" y="904.8" font-size="14" font-weight="bold" fill="#1a1a1a">Frequency</text><text transform="translate(54.3 719.8) rotate(-90)" text-anchor="middle" font-size="14" font-weight="bold" fill="#1a1a1a">Normalized pressure</text><line x1="119" y1="702.5" x2="470" y2="702.5" stroke="#cb1b2b" stroke-width="2" stroke-dasharray="7 6.7"/><line x1="119" y1="717.8" x2="470" y2="717.8" stroke="#3261a3" stroke-width="2"/><text x="325.1" y="696.9" font-size="13.9" fill="#1a1a1a">Threshold 2</text><text x="325.1" y="734.8" font-size="13.9" fill="#1a1a1a">Threshold 1</text><path d="M120.2 710.0 L137.8 711.4 L155.7 721.0 L174.2 704.2 L191.3 796.0 L227.6 632.5 L244.6 709.6 L263.8 750.7 L281.3 749.0 L299.3 780.9 L317.1 762.2 L335.2 785.3 L353.0 773.0 L370.3 775.2 L388.6 796.0 L406.8 762.0 L424.7 765.2 L442.6 794.4 L460.5 787.0 L470.2 798.0" fill="none" stroke="#3261a3" stroke-width="4.6" stroke-linejoin="round" stroke-linecap="round"/><path d="M120.0 666.6 L137.8 691.0 L155.8 731.0 L174.5 780.0 L191.8 776.0 L209.7 780.0 L227.6 799.3 L245.6 788.0 L263.5 782.5 L281.5 775.5 L299.5 790.5 L317.4 792.6 L335.4 790.0 L353.3 778.4 L371.3 797.5 L389.2 776.0 L407.2 795.5 L425.1 770.5 L443.1 784.7 L461.0 782.0 L468.0 783.3" fill="none" stroke="#cb1b2b" stroke-width="4.8" stroke-linejoin="round" stroke-linecap="round" stroke-dasharray="9 9.38"/></g>
</svg>
</body></html>
